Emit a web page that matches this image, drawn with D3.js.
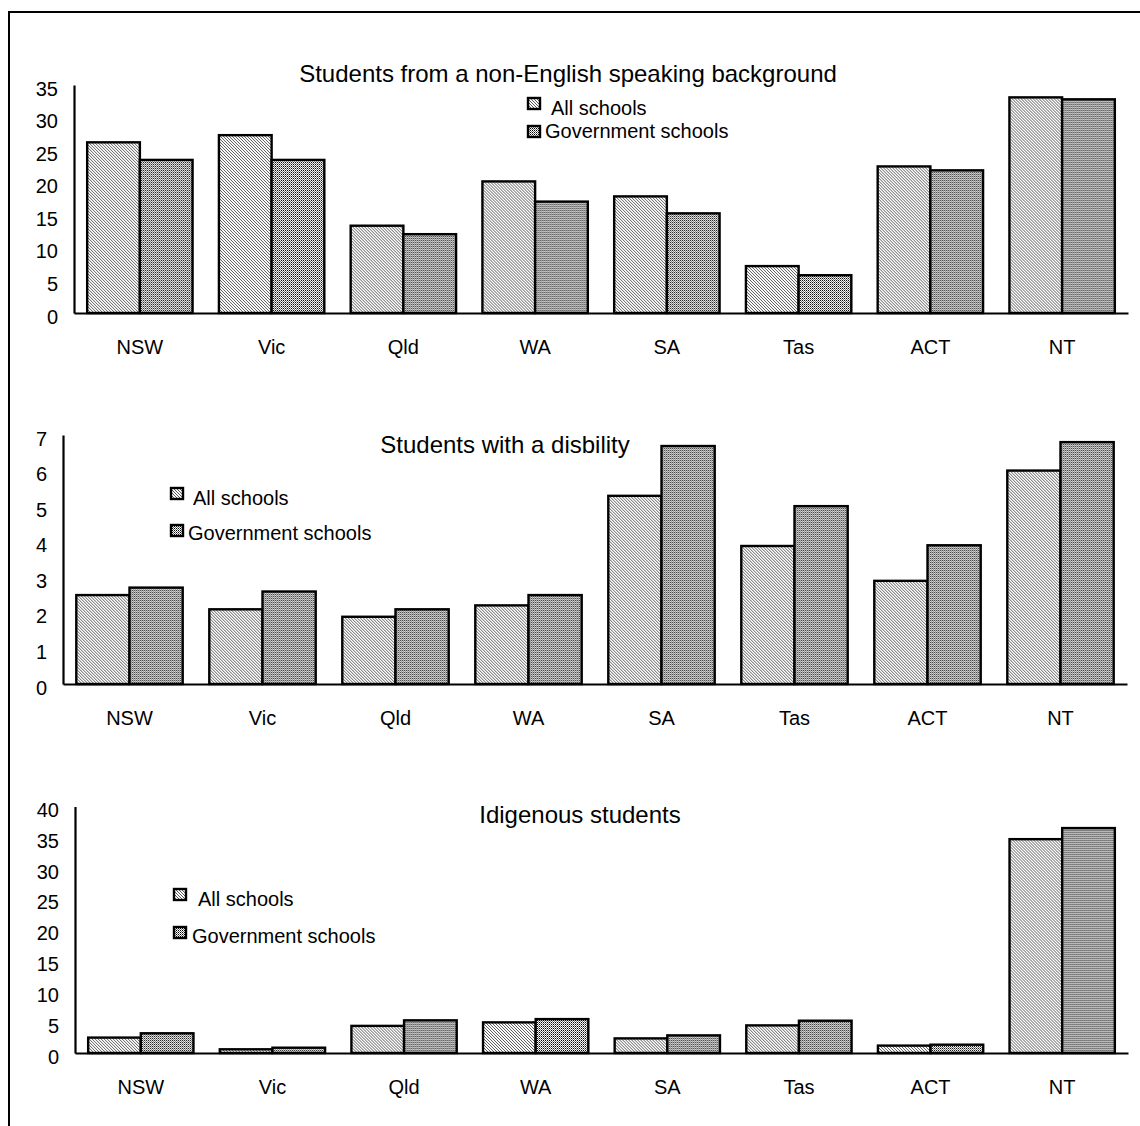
<!DOCTYPE html>
<html>
<head>
<meta charset="utf-8">
<script src="https://cdn.jsdelivr.net/npm/d3@7"></script>
<style>
  html, body { margin: 0; padding: 0; background: #fff; }
  svg { display: block; }
  text { font-family: "Liberation Sans", Arial, sans-serif; fill: #000; }
</style>
</head>
<body>
<svg id="chart" width="1140" height="1126"></svg>
<script>
// ---- Data ----
const categories = ["NSW", "Vic", "Qld", "WA", "SA", "Tas", "ACT", "NT"];
const seriesNames = ["All schools", "Government schools"];

const nesbTitle = "Students from a non-English speaking background";
const nesbAll = [26.2, 27.3, 13.4, 20.2, 17.9, 7.2, 22.5, 33.1];
const nesbGov = [23.5, 23.5, 12.1, 17.1, 15.3, 5.8, 21.9, 32.8];
const nesbTicks = [0, 5, 10, 15, 20, 25, 30, 35];

const disTitle = "Students with a disbility";
const disAll = [2.5, 2.1, 1.89, 2.21, 5.29, 3.88, 2.9, 6.0];
const disGov = [2.71, 2.6, 2.1, 2.5, 6.69, 5.0, 3.9, 6.8];
const disTicks = [0, 1, 2, 3, 4, 5, 6, 7];

const indTitle = "Idigenous students";
const indAll = [2.5, 0.6, 4.4, 4.97, 2.37, 4.48, 1.2, 34.7];
const indGov = [3.2, 0.86, 5.3, 5.5, 2.86, 5.24, 1.35, 36.5];
const indTicks = [0, 5, 10, 15, 20, 25, 30, 35, 40];

// ---- Layout (positions & styles) ----
const panels = [
  { title: nesbTitle, all: nesbAll, gov: nesbGov, ticks: nesbTicks, max: 35,
    x0: 74, x1: 1128, yBase: 313, yTop: 85, titleX: 568, titleY: 82,
    legend: [{x: 528, y: 98, tx: 551, ty: 115}, {x: 528, y: 126, tx: 545, ty: 138}] },
  { title: disTitle, all: disAll, gov: disGov, ticks: disTicks, max: 7,
    x0: 63, x1: 1127, yBase: 684, yTop: 435, titleX: 505, titleY: 453,
    legend: [{x: 171, y: 488, tx: 193, ty: 505}, {x: 171, y: 525, tx: 188, ty: 540}] },
  { title: indTitle, all: indAll, gov: indGov, ticks: indTicks, max: 40,
    x0: 75, x1: 1128, yBase: 1053, yTop: 806.5, titleX: 580, titleY: 823,
    legend: [{x: 174, y: 889, tx: 198, ty: 906}, {x: 174, y: 927, tx: 192, ty: 943}] }
];

const svg = d3.select("#chart");

// patterns
const defs = svg.append("defs");
const pAll = defs.append("pattern").attr("id", "patAll")
  .attr("patternUnits", "userSpaceOnUse").attr("width", 3).attr("height", 3);
pAll.append("rect").attr("width", 3).attr("height", 3).attr("fill", "#fff");
[0, 1, 2].forEach(i => {
  pAll.append("rect").attr("x", i).attr("y", i).attr("width", 1).attr("height", 1)
    .attr("fill", "#5a5a5a").attr("shape-rendering", "crispEdges");
});
const pGov = defs.append("pattern").attr("id", "patGov")
  .attr("patternUnits", "userSpaceOnUse").attr("width", 2).attr("height", 2);
pGov.append("rect").attr("width", 2).attr("height", 2).attr("fill", "#fff");
pGov.append("rect").attr("x", 0).attr("y", 0).attr("width", 1).attr("height", 1)
  .attr("fill", "#000").attr("shape-rendering", "crispEdges");
pGov.append("rect").attr("x", 1).attr("y", 1).attr("width", 1).attr("height", 1)
  .attr("fill", "#707070").attr("shape-rendering", "crispEdges");

const fills = ["url(#patAll)", "url(#patGov)"];

// outer frame
svg.append("rect").attr("x", 9).attr("y", 12).attr("width", 1150).attr("height", 1130)
  .attr("fill", "none").attr("stroke", "#000").attr("stroke-width", 2);

panels.forEach(p => {
  const g = svg.append("g");
  const x = d3.scaleBand().domain(categories).range([p.x0, p.x1])
    .paddingInner(0.2).paddingOuter(0.1);
  const xs = d3.scaleBand().domain(seriesNames).range([0, x.bandwidth()]).padding(0);
  const y = d3.scaleLinear().domain([0, p.max]).range([p.yBase, p.yTop]);

  const rows = categories.map((c, i) => ({ cat: c, vals: [p.all[i], p.gov[i]] }));

  // bars
  const grp = g.selectAll("g.cat").data(rows).join("g")
    .attr("transform", d => `translate(${x(d.cat)},0)`);
  grp.selectAll("rect").data(d => d.vals.map((v, k) => ({ v, k })))
    .join("rect")
    .attr("x", d => xs(seriesNames[d.k]))
    .attr("y", d => y(d.v))
    .attr("width", xs.bandwidth())
    .attr("height", d => y(0) - y(d.v))
    .attr("fill", d => fills[d.k])
    .attr("stroke", "#000").attr("stroke-width", 2.4);

  // y axis
  const ya = g.append("g").attr("transform", `translate(${p.x0},0)`)
    .call(d3.axisLeft(y).tickValues(p.ticks).tickFormat(d3.format("d"))
      .tickSize(0).tickSizeOuter(0).tickPadding(16));
  ya.select(".domain").attr("stroke", "#000").attr("stroke-width", 2.2);
  ya.selectAll("text").attr("font-size", 20).attr("dy", "0.5em")
    .style("font-family", "'Liberation Sans', Arial, sans-serif");

  // x axis
  const xa = g.append("g").attr("transform", `translate(0,${p.yBase})`)
    .call(d3.axisBottom(x).tickSize(0).tickSizeOuter(0).tickPadding(27));
  xa.select(".domain").attr("stroke", "#000").attr("stroke-width", 2.2);
  xa.selectAll("text").attr("font-size", 20)
    .style("font-family", "'Liberation Sans', Arial, sans-serif");

  // title
  g.append("text").attr("x", p.titleX).attr("y", p.titleY)
    .attr("text-anchor", "middle").attr("font-size", 24).text(p.title);

  // legend
  p.legend.forEach((l, k) => {
    g.append("rect").attr("x", l.x).attr("y", l.y).attr("width", 12).attr("height", 11)
      .attr("fill", fills[k]).attr("stroke", "#000").attr("stroke-width", 2.4);
    g.append("text").attr("x", l.tx).attr("y", l.ty).attr("font-size", 20).text(seriesNames[k]);
  });
});
</script>
</body>
</html>
